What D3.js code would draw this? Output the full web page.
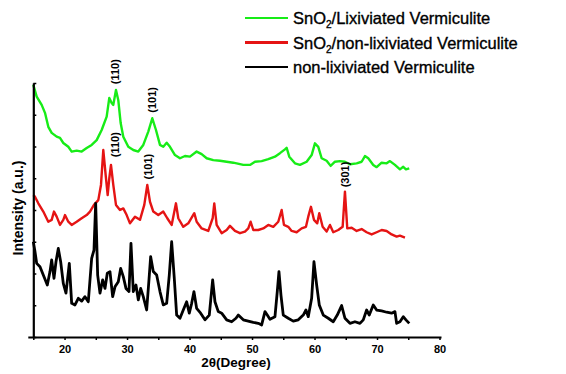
<!DOCTYPE html>
<html>
<head>
<meta charset="utf-8">
<script src="https://cdn.jsdelivr.net/npm/d3@7"></script>
<style>
  html, body { margin: 0; padding: 0; background: #fff; }
  svg { display: block; font-family: Arial, "Liberation Sans", sans-serif; }
</style>
</head>
<body>
<svg id="chart" width="566" height="374"></svg>
<script>
// [2θ (degree), intensity (a.u.)]
const snO2Lixiviated = [
  [15.0, 7.94], [15.54, 7.57], [16.34, 7.31], [16.87, 7.06], [17.4, 6.62], [17.94, 6.43],
  [18.74, 6.31], [19.27, 6.27], [19.8, 6.11], [20.6, 5.99], [21.14, 5.84], [21.94, 5.87],
  [22.74, 5.84], [23.54, 5.95], [24.34, 6.05], [25.14, 6.2], [25.94, 6.52], [26.74, 6.94],
  [27.16, 7.53], [27.54, 7.37], [27.8, 7.31], [28.23, 7.78], [28.6, 7.46], [28.98, 6.74],
  [29.4, 6.31], [30.2, 5.99], [31.0, 5.89], [31.8, 5.84], [32.6, 6.05], [33.4, 6.47],
  [34.04, 6.89], [34.63, 6.52], [35.27, 6.05], [35.8, 5.99], [36.34, 6.12], [36.87, 5.99],
  [37.67, 5.73], [38.47, 5.63], [39.27, 5.7], [40.07, 5.68], [41.14, 5.84], [41.94, 5.76],
  [42.74, 5.63], [43.8, 5.57], [44.87, 5.55], [45.94, 5.52], [47.0, 5.49], [47.54, 5.47],
  [48.6, 5.42], [49.67, 5.42], [50.47, 5.52], [51.54, 5.54], [52.6, 5.6], [53.67, 5.68],
  [54.47, 5.79], [55.27, 5.91], [55.54, 5.96], [55.96, 5.68], [56.87, 5.47], [57.67, 5.42],
  [58.74, 5.52], [59.54, 5.73], [60.07, 6.1], [60.6, 5.99], [61.14, 5.63], [61.94, 5.55],
  [62.58, 5.39], [63.27, 5.52], [64.07, 5.54], [64.87, 5.52], [65.67, 5.44], [66.74, 5.47],
  [67.54, 5.52], [68.07, 5.7], [68.6, 5.63], [69.4, 5.42], [69.94, 5.35], [70.74, 5.49],
  [71.54, 5.47], [72.07, 5.54], [72.87, 5.42], [73.67, 5.28], [74.2, 5.36], [74.63, 5.28],
  [75.16, 5.31]
];

const snO2NonLixiviated = [
  [15.0, 4.47], [15.27, 4.42], [15.8, 4.21], [16.6, 3.95], [17.4, 3.63], [17.94, 3.69],
  [18.31, 3.95], [18.74, 3.79], [19.27, 3.53], [19.8, 3.69], [20.07, 3.84], [20.6, 3.63],
  [21.14, 3.53], [21.94, 3.63], [22.74, 3.74], [23.54, 3.84], [24.07, 3.95], [24.71, 4.16],
  [25.4, 4.31], [25.83, 4.79], [26.2, 5.89], [26.58, 5.1], [26.9, 4.47], [27.16, 5.0],
  [27.43, 5.42], [27.8, 4.79], [28.23, 4.16], [28.87, 4.0], [29.4, 4.05], [29.94, 3.84],
  [30.47, 3.58], [31.27, 3.79], [32.07, 3.69], [32.76, 4.16], [33.24, 4.79], [33.67, 4.26],
  [34.2, 3.95], [35.0, 3.84], [35.8, 3.95], [36.44, 3.74], [37.14, 3.53], [37.83, 4.21],
  [38.2, 3.74], [39.0, 3.47], [39.8, 3.58], [40.76, 3.9], [41.14, 3.63], [41.94, 3.42],
  [43.0, 3.34], [43.7, 3.74], [43.96, 4.21], [44.34, 3.53], [45.14, 3.27], [45.94, 3.37],
  [46.47, 3.5], [47.27, 3.34], [48.07, 3.27], [48.87, 3.32], [49.4, 3.42], [49.78, 3.63],
  [50.2, 3.37], [51.0, 3.37], [51.8, 3.42], [52.6, 3.53], [53.4, 3.47], [54.2, 3.63],
  [54.74, 4.0], [55.11, 3.53], [55.8, 3.47], [56.34, 3.34], [57.14, 3.3], [57.94, 3.42],
  [58.63, 3.47], [59.0, 3.79], [59.43, 4.1], [59.91, 3.69], [60.44, 3.58], [60.76, 3.9],
  [61.3, 3.47], [61.94, 3.32], [62.47, 3.53], [63.0, 3.3], [63.8, 3.37], [64.5, 3.47],
  [64.87, 4.58], [65.24, 3.42], [65.94, 3.44], [66.74, 3.34], [67.54, 3.4], [68.34, 3.3],
  [69.14, 3.23], [69.94, 3.3], [70.74, 3.37], [71.54, 3.34], [72.34, 3.23], [73.14, 3.16],
  [73.67, 3.19], [74.47, 3.13]
];

const nonLixiviated = [
  [15.0, 3.0], [15.27, 2.69], [15.54, 2.32], [16.07, 2.21], [16.6, 1.95], [17.24, 1.64],
  [17.67, 2.06], [17.94, 2.43], [18.31, 1.85], [18.63, 2.37], [19.0, 2.79], [19.38, 2.37],
  [19.8, 1.69], [20.23, 1.38], [20.76, 2.32], [21.14, 1.06], [21.67, 1.01], [22.2, 1.22],
  [22.74, 1.13], [23.27, 1.27], [23.8, 1.11], [24.34, 2.48], [24.71, 2.74], [24.98, 4.21],
  [25.3, 1.95], [25.67, 1.38], [26.1, 1.8], [26.47, 1.53], [26.84, 2.01], [27.27, 2.06],
  [27.7, 1.27], [28.07, 1.58], [28.6, 1.74], [28.98, 2.16], [29.4, 1.9], [29.83, 1.53],
  [30.31, 1.43], [30.63, 2.95], [31.0, 1.43], [31.43, 1.64], [31.8, 1.17], [32.18, 1.53],
  [32.6, 1.27], [33.14, 0.85], [33.51, 1.8], [33.78, 2.53], [34.2, 2.06], [34.74, 1.95],
  [35.27, 1.43], [35.8, 1.01], [36.34, 1.06], [36.76, 1.95], [37.14, 3.0], [37.56, 1.85],
  [37.94, 0.69], [38.47, 0.59], [39.0, 0.85], [39.54, 1.11], [39.96, 0.75], [40.34, 1.06],
  [40.71, 1.43], [41.14, 0.9], [41.78, 0.75], [42.47, 0.54], [43.16, 0.69], [43.7, 1.8],
  [44.07, 1.11], [44.6, 0.8], [45.14, 0.75], [45.94, 0.54], [46.74, 0.48], [47.43, 0.59],
  [47.8, 0.69], [48.6, 0.54], [49.4, 0.5], [50.2, 0.46], [51.0, 0.43], [51.54, 0.38],
  [52.07, 0.8], [52.44, 0.69], [52.87, 0.56], [53.67, 0.64], [54.04, 1.43], [54.31, 2.06],
  [54.63, 1.32], [55.0, 0.69], [55.8, 0.59], [56.6, 0.5], [57.4, 0.54], [58.2, 0.69],
  [58.63, 0.85], [59.0, 0.64], [59.54, 1.22], [59.91, 2.37], [60.34, 1.64], [60.76, 1.01],
  [61.4, 0.69], [62.2, 0.59], [63.0, 0.48], [63.64, 0.69], [64.34, 0.99], [64.87, 0.59],
  [65.67, 0.43], [66.47, 0.48], [67.27, 0.43], [67.8, 0.54], [68.34, 0.85], [68.76, 0.69],
  [69.4, 1.01], [69.94, 0.85], [70.74, 0.82], [71.54, 0.78], [72.34, 0.75], [72.87, 0.8],
  [73.14, 0.43], [73.67, 0.48], [74.2, 0.64], [74.63, 0.54], [75.16, 0.43]
];

const seriesNames = [
  "SnO2/Lixiviated Vermiculite",
  "SnO2/non-lixiviated Vermiculite",
  "non-lixiviated Vermiculite"
];
const seriesColors = ["#17ec17", "#e51414", "#000000"];

// peak annotations: [2θ, intensity at label bottom, text]
const peakLabels = [
  [28.0, 7.9, "(110)"],
  [34.0, 7.0, "(101)"],
  [28.0, 5.6, "(110)"],
  [33.4, 4.9, "(101)"],
  [64.9, 4.65, "(301)"]
];

const xTicks = [15, 20, 25, 30, 35, 40, 45, 50, 55, 60, 65, 70, 75, 80];
const xTickLabels = [20, 30, 40, 50, 60, 70, 80];

const svg = d3.select("#chart");
const x = d3.scaleLinear().domain([15, 80]).range([33.3, 439.5]);
const y = d3.scaleLinear().domain([0, 8]).range([337, 83]);

const line = d3.line().x(d => x(d[0])).y(d => y(d[1]));

// curves
const curves = [snO2Lixiviated, snO2NonLixiviated, nonLixiviated];
svg.append("g")
  .selectAll("path")
  .data(curves)
  .join("path")
  .attr("d", d => line(d))
  .attr("fill", "none")
  .attr("stroke", (d, i) => seriesColors[i])
  .attr("stroke-width", (d, i) => i === 2 ? 2.8 : 2.4)
  .attr("stroke-linejoin", "round");

// bottom axis
const xAxis = svg.append("g")
  .attr("transform", `translate(0,${y(0)})`)
  .call(d3.axisBottom(x).tickValues(xTicks).tickSize(3).tickSizeOuter(0)
    .tickFormat(d => xTickLabels.includes(d) ? d : ""));
xAxis.select(".domain").attr("stroke-width", 2.2).attr("d", `M${x(15) - 5},0.5H${x(80) + 2}`);
xAxis.selectAll(".tick line").attr("stroke-width", 1.5);
xAxis.selectAll(".tick text")
  .attr("y", 16)
  .attr("dy", 0)
  .attr("font-size", 11)
  .attr("font-weight", "bold")
  .attr("fill", "#000");

// left axis
const yAxis = svg.append("g")
  .attr("transform", `translate(${x(15)},0)`)
  .call(d3.axisLeft(y).ticks(8).tickSize(-3).tickSizeOuter(0).tickFormat(""));
yAxis.select(".domain").attr("stroke-width", 2.2);
yAxis.selectAll(".tick line").attr("stroke-width", 1.5);

// axis titles
svg.append("text")
  .attr("x", 236).attr("y", 367)
  .attr("text-anchor", "middle")
  .attr("font-size", 13.5).attr("font-weight", "bold")
  .text("2θ(Degree)");

svg.append("text")
  .attr("transform", "translate(23,208) rotate(-90)")
  .attr("text-anchor", "middle")
  .attr("font-size", 14).attr("font-weight", "bold")
  .text("Intensity (a.u.)");

// peak labels
svg.append("g")
  .selectAll("text")
  .data(peakLabels)
  .join("text")
  .attr("transform", d => `translate(${x(d[0]) + 4},${y(d[1]) - 2}) rotate(-90)`)
  .attr("font-size", 11)
  .attr("font-weight", "bold")
  .text(d => d[2]);

// legend
const legend = svg.append("g");
const rows = legend.selectAll("g")
  .data(seriesNames)
  .join("g")
  .attr("transform", (d, i) => `translate(245,${18 + i * 24.5})`);
rows.append("line")
  .attr("x1", 0).attr("x2", 43)
  .attr("stroke", (d, i) => seriesColors[i])
  .attr("stroke-width", (d, i) => i === 1 ? 3 : 2);
rows.append("text")
  .attr("x", 48).attr("y", 6)
  .attr("font-size", 16.5)
  .attr("stroke", "#000")
  .attr("stroke-width", 0.35)
  .each(function (d) {
    const t = d3.select(this);
    if (d.startsWith("SnO2")) {
      t.append("tspan").text("SnO");
      t.append("tspan").attr("font-size", 10).attr("dy", 4).text("2");
      t.append("tspan").attr("dy", -4).text(d.slice(4));
    } else {
      t.text(d);
    }
  });
</script>
</body>
</html>
